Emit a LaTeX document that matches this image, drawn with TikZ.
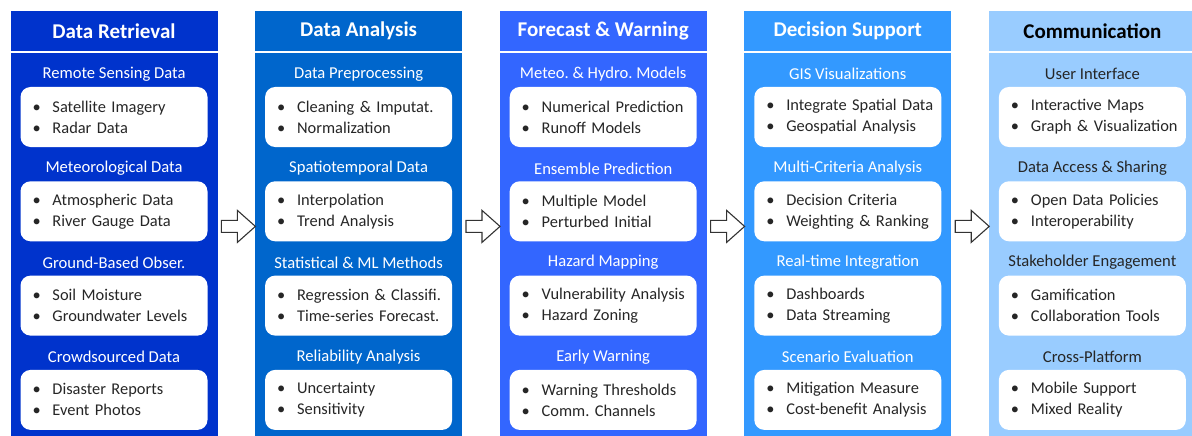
\documentclass[tikz,border=0pt]{standalone}
\usepackage{fontspec}
\setmainfont{Carlito}
\frenchspacing
\usetikzlibrary{positioning,calc}

\definecolor{retrcol}{HTML}{0033CC}
\definecolor{analcol}{HTML}{0066CC}
\definecolor{forecol}{HTML}{3366FF}
\definecolor{decicol}{HTML}{3399FF}
\definecolor{commcol}{HTML}{99CCFF}
\definecolor{ink}{HTML}{262626}

\newcommand{\bul}{\hspace*{6pt}\makebox[20pt][l]{\textbullet}}
% #1 subtitle colour, #2 column, #3 row, #4 subtitle, #5 #6 items
\newcommand{\grp}[6][white]{%
  \node[sub, text=#1] (#2s#3) at ($(#2.north)+(0,22+94.3*#3-94.3)$) {#4};
  \node[itembox] (#2b#3) at ($(#2.north)+(0,65+94.3*#3-94.3)$) {\bul #5\\\bul #6};
}
% block arrow from a column to the next one
\newcommand{\flow}[1]{%
  \draw[flowarr] ($(#1.east)+(3,-24)$) -- ++(16,0) -- ++(0,-10) -- ++(18,16)
    -- ++(-18,16) -- ++(0,-10) -- ++(-16,0) -- cycle;
}

\begin{document}
\begin{tikzpicture}[x=1pt,y=-1pt,
    stage/.style={draw=white, line width=0.8pt, minimum width=208pt,
      minimum height=384pt, inner sep=0pt},
    head/.style={draw=white, line width=0.8pt, minimum width=208pt,
      minimum height=41pt, inner sep=0pt, text=white,
      font=\fontsize{21}{24}\selectfont\bfseries},
    sub/.style={inner sep=0pt, font=\fontsize{16.6}{19}\selectfont},
    itembox/.style={fill=white, rounded corners=10pt, text width=175pt,
      inner xsep=6pt, inner ysep=0pt, minimum height=60pt, align=left,
      text=ink, font=\fontsize{16.4}{21}\selectfont},
    flowarr/.style={draw=black!80, fill=white, line width=1.1pt}]
  \useasboundingbox[fill=white] (0,0) rectangle (1192,436);

  % columns
  \node[stage, fill=retrcol, anchor=north] (retr) at (114,52) {};
  \node[stage, fill=analcol, right=35.8pt of retr] (anal) {};
  \node[stage, fill=forecol, right=35.8pt of anal] (fore) {};
  \node[stage, fill=decicol, right=35.8pt of fore] (deci) {};
  \node[stage, fill=commcol, right=35.8pt of deci] (comm) {};

  \node[head, fill=retrcol, above=0pt of retr] (retrh) {Data Retrieval};
  \node[head, fill=analcol, above=0pt of anal] (analh) {Data Analysis};
  \node[head, fill=forecol, above=0pt of fore] (foreh) {Forecast \& Warning};
  \node[head, fill=decicol, above=0pt of deci] (decih) {Decision Support};
  \node[head, fill=commcol, above=0pt of comm, text=black] (commh) {Communication};

  % groups
  \grp{retr}{1}{Remote Sensing Data}{Satellite Imagery}{Radar Data}
  \grp{retr}{2}{Meteorological Data}{Atmospheric Data}{River Gauge Data}
  \grp{retr}{3}{Ground-Based Obser.}{Soil Moisture}{Groundwater Levels}
  \grp{retr}{4}{Crowdsourced Data}{Disaster Reports}{Event Photos}

  \grp{anal}{1}{Data Preprocessing}{Cleaning \& Imputat.}{Normalization}
  \grp{anal}{2}{Spatiotemporal Data}{Interpolation}{Trend Analysis}
  \grp{anal}{3}{Statistical \& ML Methods}{Regression \& Classifi.}{Time-series Forecast.}
  \grp{anal}{4}{Reliability Analysis}{Uncertainty}{Sensitivity}

  \grp{fore}{1}{Meteo. \& Hydro. Models}{Numerical Prediction}{Runoff Models}
  \grp{fore}{2}{Ensemble Prediction}{Multiple Model}{Perturbed Initial}
  \grp{fore}{3}{Hazard Mapping}{Vulnerability Analysis}{Hazard Zoning}
  \grp{fore}{4}{Early Warning}{Warning Thresholds}{Comm. Channels}

  \grp{deci}{1}{GIS Visualizations}{Integrate Spatial Data}{Geospatial Analysis}
  \grp{deci}{2}{Multi-Criteria Analysis}{Decision Criteria}{Weighting \& Ranking}
  \grp{deci}{3}{Real-time Integration}{Dashboards}{Data Streaming}
  \grp{deci}{4}{Scenario Evaluation}{Mitigation Measure}{Cost-benefit Analysis}

  \grp[ink]{comm}{1}{User Interface}{Interactive Maps}{Graph \& Visualization}
  \grp[ink]{comm}{2}{Data Access \& Sharing}{Open Data Policies}{Interoperability}
  \grp[ink]{comm}{3}{Stakeholder Engagement}{Gamification}{Collaboration Tools}
  \grp[ink]{comm}{4}{Cross-Platform}{Mobile Support}{Mixed Reality}

  % arrows
  \flow{retr}
  \flow{anal}
  \flow{fore}
  \flow{deci}
\end{tikzpicture}
\end{document}
